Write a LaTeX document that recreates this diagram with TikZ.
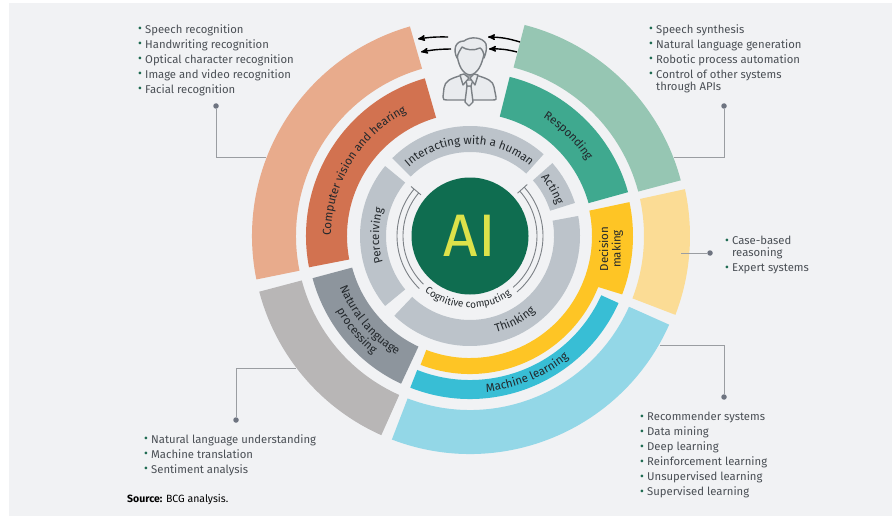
\documentclass[tikz,border=0pt]{standalone}
\usepackage{fontspec}
\setmainfont{Fira Sans}
\usetikzlibrary{arrows}
\usetikzlibrary{positioning}
\usetikzlibrary{decorations.text}

\definecolor{panelgray}{HTML}{F1F2F4}
\definecolor{peach}{HTML}{E8AB8C}
\definecolor{rust}{HTML}{D27250}
\definecolor{sage}{HTML}{96C6B3}
\definecolor{teal}{HTML}{3FA98F}
\definecolor{amber}{HTML}{FEC525}
\definecolor{paleamber}{HTML}{FBDC95}
\definecolor{cyanbar}{HTML}{38BED5}
\definecolor{paleblue}{HTML}{93D7E7}
\definecolor{stone}{HTML}{B8B6B6}
\definecolor{slatebar}{HTML}{8D959D}
\definecolor{innergray}{HTML}{BCC3CA}
\definecolor{aigreen}{HTML}{0F6D50}
\definecolor{ailime}{HTML}{DDE24A}
\definecolor{bodytext}{HTML}{4A4F55}
\definecolor{ringtextcol}{HTML}{23282C}
\definecolor{bulgreen}{HTML}{1F6B52}
\definecolor{leadgray}{HTML}{9A9DA1}
\definecolor{dotgray}{HTML}{6E7480}
\definecolor{iconline}{HTML}{7B8085}
\definecolor{iconfill}{HTML}{E9EBEE}

\newcommand{\ringfont}{\fontsize{11.6}{13}\selectfont}
\newcommand{\smallringfont}{\fontsize{10}{12}\selectfont}
\newcommand{\listbul}{\makebox[7pt][l]{\textcolor{bulgreen}{\raisebox{0.6pt}{\scalebox{1.05}{•}}}}}

\tikzset{
  listtext/.style={anchor=north west, inner sep=0pt, align=left, text=bodytext,
    font=\fontsize{11.3}{15}\selectfont},
  leader/.style={draw=leadgray, line width=0.9pt},
  leaddot/.style={circle, fill=dotgray, inner sep=0pt, minimum size=5.5pt},
  flowarrow/.style={black, line width=1.4pt, -stealth'},
  iconpart/.style={draw=iconline, fill=iconfill, line width=1.4pt, line join=round}
}

\begin{document}
\begin{tikzpicture}[x=1pt, y=-1pt]
  \useasboundingbox (0, 0) rectangle (893, 516);
  \fill [white] (0, 0) rectangle (893, 516);
  \fill [panelgray] (9, 3) rectangle (892, 516);

  \newcommand{\ringpart}[5]{\fill [#1] (#2:#4) arc [start angle=#2, end angle=#3, radius=#4]
    -- (#3:#5) arc [start angle=#3, end angle=#2, radius=#5] -- cycle;}
  \newcommand{\ringtext}[5][\ringfont]{\path [decorate, decoration={text along path,
      text align=center, text color=ringtextcol, text={|#1|#2}}] (#3:#5) arc [start angle=#3, end angle=#4, radius=#5];}

  \begin{scope}[shift={(470, 236)}, y=1pt]
    % outer ring
    \ringpart{peach}{106}{191.5}{174}{218}
    \ringpart{sage}{75.5}{14.8}{174}{218}
    \ringpart{paleamber}{12.3}{-21}{174}{220}
    \ringpart{paleblue}{-24}{-111}{174}{218}
    \ringpart{stone}{194.8}{246}{174}{218}

    % middle ring
    \ringpart{rust}{106}{191}{123}{164}
    \ringpart{teal}{76}{15.5}{123}{164}
    \ringpart{slatebar}{195}{245}{122}{163}
    \ringpart{cyanbar}{-24.3}{-111.5}{144}{163}
    \fill [amber] (12:163) arc [start angle=12, end angle=-21, radius=163]
      -- (-21.7:138) arc [start angle=-21.7, end angle=-111, radius=138]
      -- (-111:122) arc [start angle=-111, end angle=12, radius=122] -- cycle;

    % inner ring
    \ringpart{innergray}{135}{48}{84}{110}
    \ringpart{innergray}{41.5}{17.5}{84}{110}
    \ringpart{innergray}{10.5}{-133.5}{84}{110}
    \ringpart{innergray}{140.5}{219.5}{84}{110}

    % cognitive computing brackets
    \foreach \rad in {67, 73} {
      \draw [iconline, line width=0.9pt] (140:\rad) arc [start angle=140, end angle=226, radius=\rad];
      \draw [iconline, line width=0.9pt] (42:\rad) arc [start angle=42, end angle=-50, radius=\rad];
    }
    \draw [iconline, line width=0.9pt] (140:64) -- (140:77) (42:64) -- (42:77);

    \node [circle, fill=aigreen, minimum size=117pt, inner sep=0pt, text=ailime,
      font=\fontsize{60}{60}\selectfont] (ai) at (0, 0) {AI};

    \ringtext{Computer vision and hearing}{191}{106}{139}
    \ringtext{Responding}{76}{15}{139}
    \ringtext{Machine learning}{-111}{-24}{157}
    \ringtext{Natural language}{195}{245}{140}
    \ringtext{processing}{195}{245}{153}
    \ringtext{Interacting with a human}{135}{46}{92}
    \ringtext{Acting}{41}{18}{92}
    \ringtext{Perceiving}{219}{141}{91}
    \ringtext{Thinking}{-100}{-24}{100}
    \ringtext[\smallringfont]{Cognitive computing}{230}{306}{72}
  \end{scope}

  \node [rotate=90, align=center, text=ringtextcol, font=\fontsize{11.5}{12.5}\selectfont] (decision) at (611, 249) {Decision\\making};

  % person
  \draw [iconpart] (459, 76) .. controls (450, 79) and (445, 81) .. (444, 88) -- (443, 97)
    .. controls (443, 100) and (444, 100) .. (447, 100) -- (493, 100)
    .. controls (496, 100) and (497, 99) .. (496, 97) -- (494, 87)
    .. controls (493, 81) and (488, 79) .. (479, 76) -- cycle;
  \draw [iconpart] (457, 54) .. controls (458, 64) and (462, 74) .. (470, 75)
    .. controls (478, 74) and (482, 64) .. (484, 54) -- (484, 44) -- (458, 44) -- cycle;
  \draw [iconpart] (457, 58) .. controls (453, 50) and (455, 41) .. (464, 41)
    .. controls (470, 36) and (483, 37) .. (486, 44)
    .. controls (487, 49) and (486, 53) .. (484, 58)
    .. controls (484, 52) and (482, 49) .. (480, 48)
    .. controls (474, 51) and (466, 50) .. (462, 47)
    .. controls (460, 50) and (458, 53) .. (457, 58) -- cycle;
  \draw [iconpart] (467, 86) -- (465, 102) -- (469, 106) -- (473, 102) -- (471, 86) -- cycle;
  \draw [iconpart] (466, 80) -- (473, 80) -- (471, 86) -- (467, 86) -- cycle;
  \draw [iconpart] (460, 75) -- (463, 85) -- (469, 78) -- (464, 74) -- cycle;
  \draw [iconpart] (478, 75) -- (475, 85) -- (470, 78) -- (474, 74) -- cycle;

  \coordinate (leftA) at (448, 37);
  \coordinate (leftB) at (418, 39);
  \coordinate (leftC) at (451, 49);
  \coordinate (leftD) at (421, 52);
  \coordinate (rightA) at (520, 42);
  \coordinate (rightB) at (488, 37);
  \coordinate (rightC) at (517, 52);
  \coordinate (rightD) at (489, 49);
  \draw [flowarrow] (leftA) to [bend right=5] (leftB);
  \draw [flowarrow] (leftC) to [bend right=5] (leftD);
  \draw [flowarrow] (rightA) to [bend left=-8] (rightB);
  \draw [flowarrow] (rightC) to [bend left=-8] (rightD);

  % lists
  \node [listtext] (visionlist) at (138, 24.5) {\listbul Speech recognition\\
    \listbul Handwriting recognition\\
    \listbul Optical character recognition\\
    \listbul Image and video recognition\\
    \listbul Facial recognition};
  \node [listtext] (respondlist) at (649, 24.5) {\listbul Speech synthesis\\
    \listbul Natural language generation\\
    \listbul Robotic process automation\\
    \listbul Control of other systems\\[-3pt]
    \hspace*{7pt}through APIs};
  \node [listtext] (decidelist) at (725, 236) {\listbul Case-based\\[-3pt]
    \hspace*{7pt}reasoning\\
    \listbul Expert systems};
  \node [listtext] (learnlist) at (640, 412) {\listbul Recommender systems\\
    \listbul Data mining\\
    \listbul Deep learning\\
    \listbul Reinforcement learning\\
    \listbul Unsupervised learning\\
    \listbul Supervised learning};
  \node [listtext] (languagelist) at (144, 434) {\listbul Natural language understanding\\
    \listbul Machine translation\\
    \listbul Sentiment analysis};
  \node [anchor=west, inner sep=0pt, font=\fontsize{10.5}{12}\selectfont] (source) at (127, 500)
    {\textbf{Source:} BCG analysis.};

  % leaders
  \node [leaddot] (visiondot) at (216, 106) {};
  \node [leaddot] (responddot) at (724, 106) {};
  \node [leaddot] (decidedot) at (710, 253) {};
  \node [leaddot] (learndot) at (724, 397) {};
  \node [leaddot] (languagedot) at (236, 420) {};
  \coordinate (visionend) at (266, 157);
  \coordinate (respondend) at (674, 157);
  \coordinate (decideend) at (681, 253);
  \coordinate (learnend) at (660, 345);
  \coordinate (languageend) at (296, 368);
  \draw [leader] (visiondot) |- (visionend);
  \draw [leader] (responddot) |- (respondend);
  \draw [leader] (decidedot) -- (decideend);
  \draw [leader] (learndot) |- (learnend);
  \draw [leader] (languagedot) |- (languageend);
\end{tikzpicture}
\end{document}
